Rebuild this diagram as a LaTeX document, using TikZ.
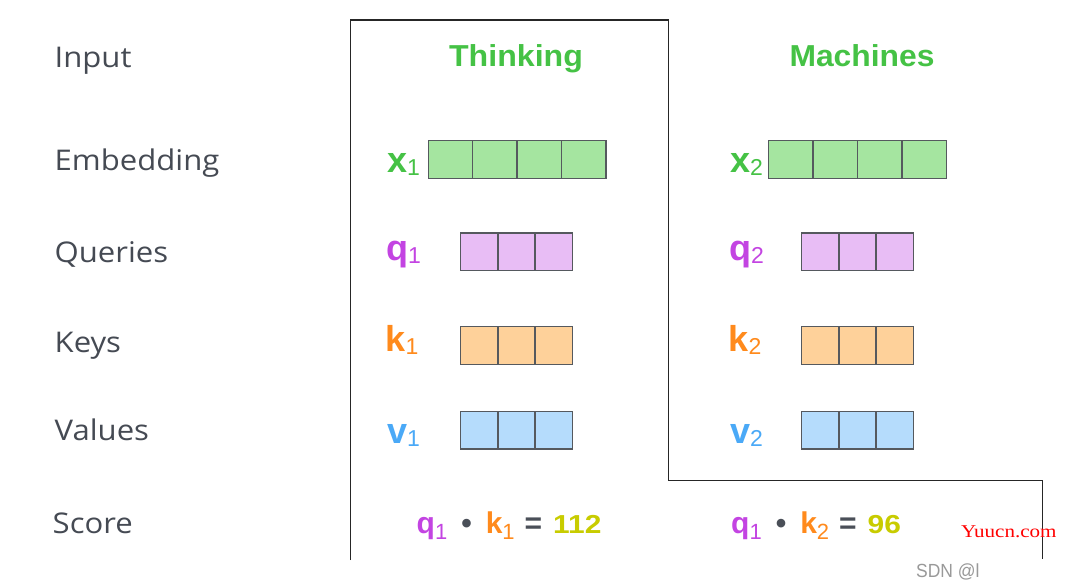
\documentclass[tikz,border=0pt]{standalone}
\usepackage{fontspec}
\setmainfont{Liberation Sans}
\newfontfamily\opensans{Open Sans}
\newfontfamily\wmserif{Liberation Serif}
\definecolor{labelgray}{HTML}{454A53}
\definecolor{wordgreen}{HTML}{45C245}
\definecolor{xfill}{HTML}{A5E5A0}
\definecolor{qcol}{HTML}{C344E2}
\definecolor{qfill}{HTML}{E8BDF5}
\definecolor{kcol}{HTML}{FF8A1C}
\definecolor{kfill}{HTML}{FED19A}
\definecolor{vcol}{HTML}{4AA9F7}
\definecolor{vfill}{HTML}{B5DCFC}
\definecolor{scorecol}{HTML}{C8CC00}
\definecolor{cellborder}{HTML}{55595E}
\definecolor{opcol}{HTML}{4A4F58}
\newcommand{\vlab}[3]{{\color{#1}\fontsize{36}{36}\selectfont\bfseries #2\raisebox{-3pt}{\fontsize{23}{23}\mdseries\selectfont #3}}}
\newcommand{\slab}[3]{{\color{#1}\fontsize{30}{30}\selectfont\bfseries #2\raisebox{-6pt}{\fontsize{22}{22}\mdseries\selectfont #3}}}
\newcommand{\sop}[1]{{\color{opcol}\fontsize{30}{30}\selectfont\bfseries #1}}
\newcommand{\snum}[1]{{\color{scorecol}\fontsize{26}{26}\selectfont\bfseries\scalebox{1.15}[1]{#1}}}
\tikzset{
  rowlabel/.style={anchor=base west, inner sep=0pt, text=labelgray, font=\opensans\fontsize{28.5}{28.5}\selectfont},
  wordlabel/.style={anchor=base, inner sep=0pt, text=wordgreen, font=\fontsize{30.3}{30.3}\selectfont\bfseries},
  veclabel/.style={anchor=base west, inner sep=0pt},
  cell/.style={draw=cellborder, line width=1.4pt, anchor=north west, inner sep=0pt, minimum height=37.7pt},
  wide/.style={cell, minimum width=44.4pt},
  narrow/.style={cell, minimum width=37.2pt},
  outline/.style={draw=black!85, line width=1.8pt},
  scoretext/.style={anchor=base west, inner sep=0pt}
}
\begin{document}
\begin{tikzpicture}[x=1pt,y=-1pt]
\useasboundingbox (0,0) rectangle (1071,587);
\fill[white] (0,0) rectangle (1071,587);

% outline
\draw[outline] (350.5,560) -- (350.5,20) -- (668.5,20) -- (668.5,480.5) -- (1042.5,480.5) -- (1042.5,559);

% row labels
\node[rowlabel] (lInput) at (54.5,67.5) {\scalebox{1.09}[1]{Input}};
\node[rowlabel] (lEmb) at (54.5,170.5) {\scalebox{1.09}[1]{Embedding}};
\node[rowlabel] (lQ) at (54.5,262.8) {\scalebox{1.09}[1]{Queries}};
\node[rowlabel] (lK) at (54.5,352.3) {\scalebox{1.09}[1]{Keys}};
\node[rowlabel] (lV) at (54.5,440.8) {\scalebox{1.09}[1]{Values}};
\node[rowlabel] (lS) at (52.5,533.1) {\scalebox{1.09}[1]{Score}};

% words
\node[wordlabel] (w1) at (516,66.7) {\scalebox{1.06}[1]{Thinking}};
\node[wordlabel] (w2) at (862,66.7) {\scalebox{1.05}[1]{Machines}};

% vector labels
\node[veclabel] (x1) at (387,172) {\vlab{wordgreen}{x}{1}};
\node[veclabel] (q1) at (386,260.7) {\vlab{qcol}{q}{1}};
\node[veclabel] (k1) at (385.5,351.7) {\vlab{kcol}{k}{1}};
\node[veclabel] (v1) at (387,443) {\vlab{vcol}{v}{1}};
\node[veclabel] (x2) at (730,172) {\vlab{wordgreen}{x}{2}};
\node[veclabel] (q2) at (729,260.7) {\vlab{qcol}{q}{2}};
\node[veclabel] (k2) at (728.5,351.7) {\vlab{kcol}{k}{2}};
\node[veclabel] (v2) at (730,443) {\vlab{vcol}{v}{2}};

% vectors
\foreach \i in {0,...,3} {
  \node[wide, fill=xfill] (xa\i) at (427.5+44.4*\i,140) {};
  \node[wide, fill=xfill] (xb\i) at (768+44.4*\i,140) {};
}
\foreach \i in {0,...,2} {
  \node[narrow, fill=qfill] (qa\i) at (460+37.2*\i,232.3) {};
  \node[narrow, fill=kfill] (ka\i) at (460+37.2*\i,326) {};
  \node[narrow, fill=vfill] (va\i) at (460+37.2*\i,410.7) {};
  \node[narrow, fill=qfill] (qb\i) at (801+37.2*\i,232.3) {};
  \node[narrow, fill=kfill] (kb\i) at (801+37.2*\i,326) {};
  \node[narrow, fill=vfill] (vb\i) at (801+37.2*\i,410.7) {};
}

% scores
\node[scoretext] (s1) at (416.5,533) {\slab{qcol}{q}{1}\hspace{14pt}\sop{•}\hspace{14pt}\slab{kcol}{k}{1}\hspace{10pt}\sop{=}\hspace{11pt}\snum{112}};
\node[scoretext] (s2) at (731,533) {\slab{qcol}{q}{1}\hspace{14pt}\sop{•}\hspace{14pt}\slab{kcol}{k}{2}\hspace{10pt}\sop{=}\hspace{11pt}\snum{96}};

% watermarks
\node[anchor=base west, inner sep=0pt, text=red, font=\wmserif\fontsize{18}{18}\selectfont] (wm1) at (961,537.3) {\scalebox{1.17}[1]{Yuucn.com}};
\node[anchor=base west, inner sep=0pt, text=black!40, font=\fontsize{19}{19}\selectfont] (wm2) at (916,577.3) {\scalebox{0.92}[1]{SDN @l}};
\end{tikzpicture}
\end{document}
